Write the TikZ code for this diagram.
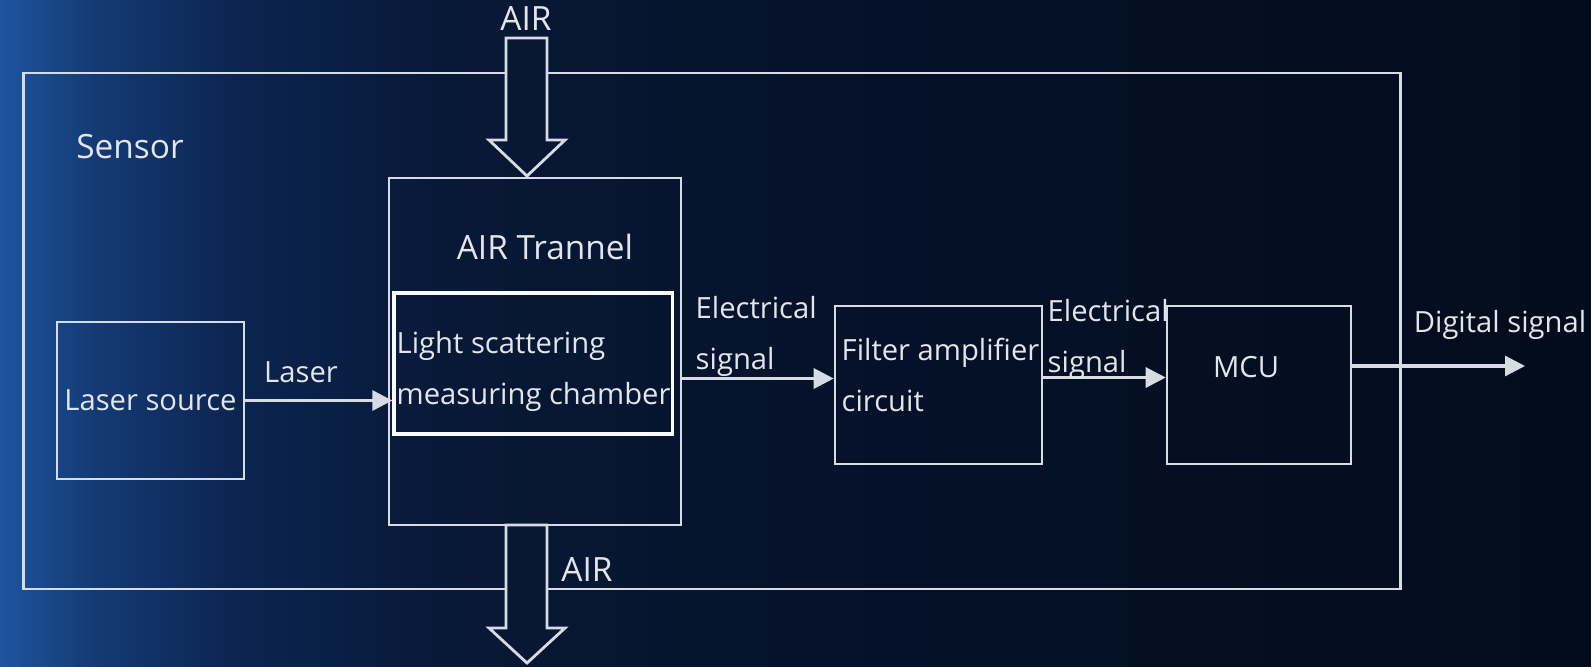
\documentclass[tikz,border=0pt]{standalone}
\usepackage{fontspec}
\setmainfont{Open Sans}
\usetikzlibrary{positioning, arrows.meta}

\definecolor{bgA}{RGB}{30,84,158}
\definecolor{bgB}{RGB}{20,58,116}
\definecolor{bgC}{RGB}{12,36,80}
\definecolor{bgD}{RGB}{8,25,55}
\definecolor{bgE}{RGB}{5,18,42}
\definecolor{bgF}{RGB}{3,12,28}
\definecolor{arrowfill}{RGB}{7,23,52}
\definecolor{linec}{RGB}{214,220,228}
\definecolor{txtc}{RGB}{226,230,236}
% the path covers 25bp--75bp of the shading
\pgfdeclarehorizontalshading{sensorbg}{100bp}{color(0bp)=(bgA); color(25bp)=(bgA);
  color(28bp)=(bgB); color(32.5bp)=(bgC); color(39bp)=(bgD); color(50bp)=(bgE);
  color(75bp)=(bgF); color(100bp)=(bgF)}

\tikzset{
  box/.style={draw=linec, line width=0.7pt, inner sep=0pt},
  big/.style={font=\fontsize{9.5}{12}\selectfont},
  lbl/.style={anchor=west, align=left, inner sep=0pt},
  sig/.style={->, draw=linec, line width=0.9pt},
  airarrow/.style={draw=linec, line width=0.8pt, fill=arrowfill}
}

\begin{document}
\begin{tikzpicture}[x=0.01cm, y=-0.01cm, >={Triangle[length=2mm, width=2mm]},
    text=txtc, font=\fontsize{8.3}{14.5}\selectfont]
      \useasboundingbox (0,0) rectangle (1591,666);
      \shade[shading=sensorbg] (0,0) rectangle (1591,666);

      % sensor frame and blocks
      \node[box, minimum width=13.76cm, minimum height=5.16cm] (sensor) at (712,331) {};
      \node[big] (sensorlbl) at (130,147) {Sensor};
      \node[box, minimum width=1.87cm, minimum height=1.57cm] (laser) at (150.5,400.5) {Laser source};
      \node[box, minimum width=2.92cm, minimum height=3.47cm] (tunnel) at (535,351.5) {};
      \node[big] (tunnellbl) at (545,247) {AIR Trannel};
      \node[box, line width=0.9pt, draw=white!85!linec, minimum width=2.78cm, minimum height=1.41cm]
        (chamber) at (533,363.5) {};
      \node[lbl] (chambertxt) at (396,371) {Light scattering\\measuring chamber};
      \node[box, minimum width=2.07cm, minimum height=1.58cm] (filter) at (938.5,385) {};
      \node[lbl] (filtertxt) at (841,375) {Filter amplifier\\circuit};
      \node[box, minimum width=1.84cm, minimum height=1.58cm] (mcu) at (1259,385) {};
      \node (mculbl) at (1246,367) {MCU};

      % signal path
      \draw[sig] (laser.east) -- (laser.east -| chamber.west);
      \node (laserlbl) at (301,372) {Laser};
      \coordinate (e1) at ([yshift=0.065cm]filter.west);
      \draw[sig] (e1 -| tunnel.east) -- (e1);
      \node[lbl] (sig1) at (695,336) {Electrical\\signal};
      \draw[sig] ([yshift=0.075cm]filter.east) -- ([yshift=0.075cm]mcu.west);
      \node[lbl] (sig2) at (1047,339) {Electrical\\signal};
      \coordinate (dout) at (1525,366);
      \draw[sig] (mcu.east |- dout) -- (dout);
      \node (digital) at (1500,325) {Digital signal};

      % air in and out
      \node[big] (airin) at (526,19) {AIR};
      \draw[airarrow] (506,38) -- (547,38) -- (547,140) -- (565,140) -- (527,176)
        -- (489,140) -- (506,140) -- cycle;
      \draw[airarrow] (506,525) -- (547,525) -- (547,628) -- (565,628) -- (527,663)
        -- (489,628) -- (506,628) -- cycle;
      \node[big] (airout) at (587,570) {AIR};
    \end{tikzpicture}
\end{document}
